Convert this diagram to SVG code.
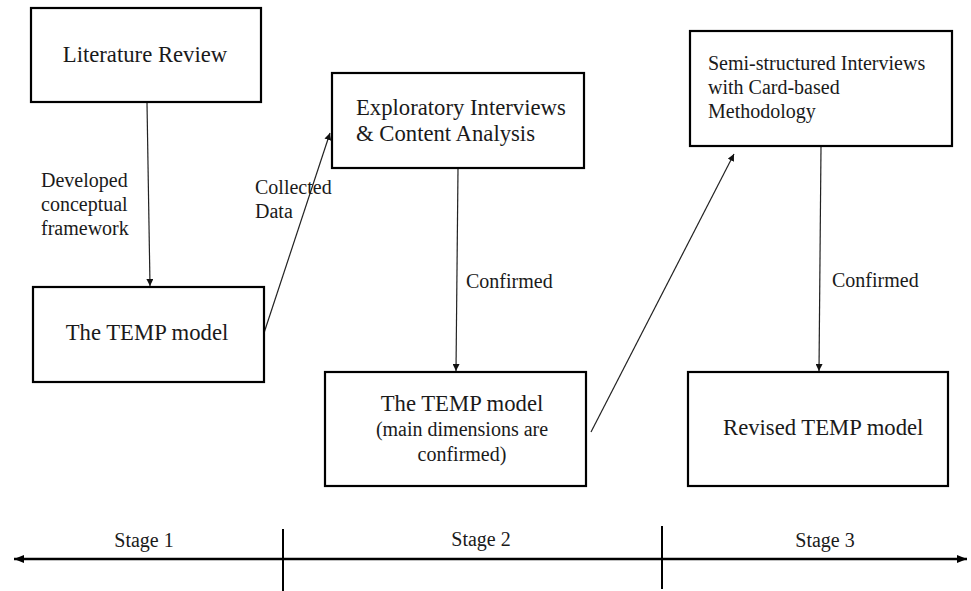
<svg xmlns="http://www.w3.org/2000/svg" width="971" height="591" viewBox="0 0 971 591">
  <defs>
    <marker id="tip" viewBox="0 0 10 10" refX="10" refY="5" markerWidth="7" markerHeight="7" markerUnits="userSpaceOnUse" orient="auto">
      <path d="M0,0 L10,5 L0,10 z" fill="#111"/>
    </marker>
    <marker id="axisTip" viewBox="0 0 10 10" refX="10" refY="5" markerWidth="4" markerHeight="4" orient="auto-start-reverse">
      <path d="M0,1 L10,5 L0,9 z" fill="#000"/>
    </marker>
    <style>
      .box { fill: #fff; stroke: #000; stroke-width: 2.2; }
      .t { font-family: "Liberation Serif", "Times New Roman", serif; fill: #1a1a1a; }
      .big { font-size: 22.7px; }
      .sm { font-size: 20px; }
      .mid { text-anchor: middle; }
      .link { stroke: #222; stroke-width: 1.2; fill: none; marker-end: url(#tip); }
      .axis { stroke: #000; stroke-width: 2.6; fill: none; }
      .tick { stroke: #000; stroke-width: 2; }
    </style>
  </defs>
  <rect width="971" height="591" fill="#fff"/>

  <!-- connectors -->
  <g id="connectors">
    <line class="link" x1="147" y1="103" x2="150" y2="286"/>
    <line class="link" x1="264" y1="333" x2="330" y2="133"/>
    <line class="link" x1="458" y1="169" x2="456" y2="371"/>
    <line class="link" x1="591" y1="432" x2="734" y2="154"/>
    <line class="link" x1="821" y1="147" x2="819" y2="371"/>
    <text class="t sm" x="41" y="187">Developed</text>
    <text class="t sm" x="41" y="211">conceptual</text>
    <text class="t sm" x="41" y="235">framework</text>
    <text class="t sm" x="255" y="194">Collected</text>
    <text class="t sm" x="255" y="218">Data</text>
    <text class="t sm" x="466" y="288">Confirmed</text>
    <text class="t sm" x="832" y="287">Confirmed</text>
  </g>

  <!-- Stage 1 -->
  <g id="literature-review">
    <rect class="box" x="31" y="8" width="230" height="94"/>
    <text class="t big mid" x="145" y="62">Literature Review</text>
  </g>
  <g id="temp-model">
    <rect class="box" x="33" y="287" width="231" height="95"/>
    <text class="t big mid" x="147" y="340">The TEMP model</text>
  </g>

  <!-- Stage 2 -->
  <g id="exploratory-interviews">
    <rect class="box" x="332" y="73" width="252" height="95"/>
    <text class="t big" x="356" y="115">Exploratory Interviews</text>
    <text class="t big" x="356" y="141">&amp; Content Analysis</text>
  </g>
  <g id="temp-model-confirmed">
    <rect class="box" x="325" y="372" width="261" height="114"/>
    <text class="t big mid" x="462" y="411">The TEMP model</text>
    <text class="t sm mid" x="462" y="436">(main dimensions are</text>
    <text class="t sm mid" x="462" y="461">confirmed)</text>
  </g>

  <!-- Stage 3 -->
  <g id="semi-structured-interviews">
    <rect class="box" x="690" y="31" width="262" height="115"/>
    <text class="t sm" x="708" y="70">Semi-structured Interviews</text>
    <text class="t sm" x="708" y="94">with Card-based</text>
    <text class="t sm" x="708" y="118">Methodology</text>
  </g>
  <g id="revised-temp-model">
    <rect class="box" x="688" y="372" width="260" height="114"/>
    <text class="t big" x="723" y="435">Revised TEMP model</text>
  </g>

  <!-- stage axis -->
  <g id="stage-axis">
    <line class="axis" x1="14" y1="559" x2="967" y2="559" marker-start="url(#axisTip)" marker-end="url(#axisTip)"/>
    <line class="tick" x1="283" y1="529" x2="283" y2="591"/>
    <line class="tick" x1="662" y1="526" x2="662" y2="589"/>
    <text class="t sm mid" x="144" y="547">Stage 1</text>
    <text class="t sm mid" x="481" y="546">Stage 2</text>
    <text class="t sm mid" x="825" y="547">Stage 3</text>
  </g>
</svg>
